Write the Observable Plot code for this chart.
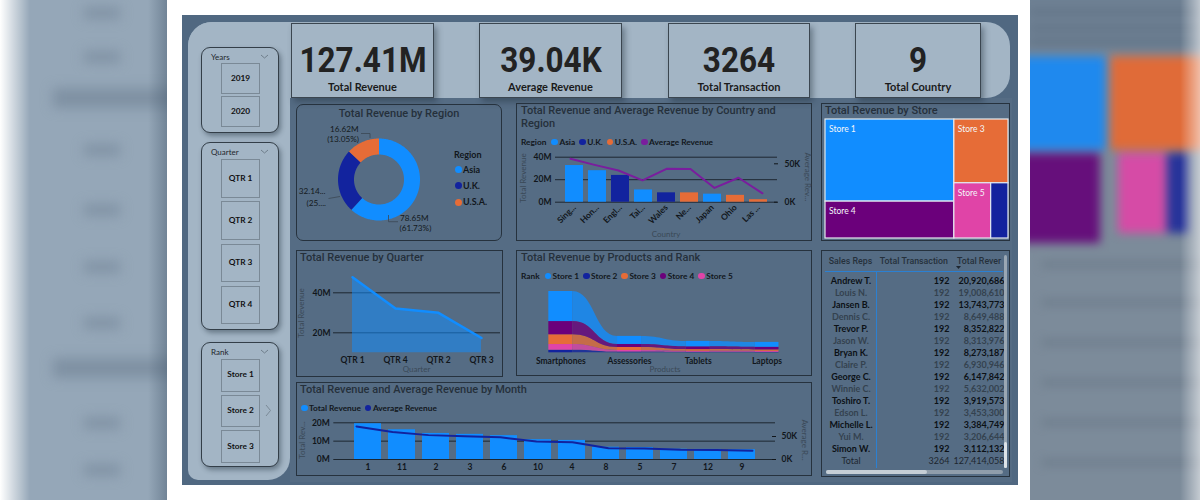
<!DOCTYPE html>
<html>
<head>
<meta charset="utf-8">
<script src="https://cdn.jsdelivr.net/npm/d3@7"></script>
<script src="https://cdn.jsdelivr.net/npm/@observablehq/plot@0.6"></script>
<style>
  html, body { margin: 0; padding: 0; background: #ffffff; }
  #root { position: relative; width: 1200px; height: 500px; overflow: hidden; background: #ffffff; font-family: Lato, "Open Sans", sans-serif; }
  .abs { position: absolute; box-sizing: border-box; }
  .t { position: absolute; white-space: nowrap; }
</style>
</head>
<body>
<div id="root"></div>
<script>
// ---------------- data ----------------
const kpiLabels = ["Total Revenue", "Average Revenue", "Total Transaction", "Total Country"];

const years = ["2019", "2020"];
const quarters = ["QTR 1", "QTR 2", "QTR 3", "QTR 4"];
const rankItems = ["Store 1", "Store 2", "Store 3"];

const regions = ["Asia", "U.K.", "U.S.A."];
const regionRevenueM = [78.65, 32.14, 16.62];
const regionSharePct = [61.73, 25.22, 13.05];

const countries = ["Singapore", "Hong Kong", "England", "Taiwan", "Wales", "New York", "Japan", "Ohio", "Las Vegas"];
const countryTicks = ["Sing...", "Hon...", "Engl...", "Tai...", "Wales", "Ne...", "Japan", "Ohio", "Las ..."];
const countryRegion = ["Asia", "Asia", "U.K.", "Asia", "U.K.", "U.S.A.", "Asia", "U.S.A.", "U.S.A."];
const countryRevenueM = [32.6, 28.0, 23.8, 10.9, 8.34, 8.3, 7.15, 6.1, 2.22];
const countryAvgK = [56.6, 48.6, 41.3, 28.4, 43.4, 43.2, 18.6, 31.8, 11.6];

const stores = ["Store 1", "Store 2", "Store 3", "Store 4", "Store 5"];
const products = ["Smartphones", "Assessories", "Tablets", "Laptops"];
const store1ByProduct = [38.5, 10.3, 6.9, 6.2];
const store2ByProduct = [3.3, 1.0, 0.7, 0.6];
const store3ByProduct = [12.5, 3.8, 2.1, 1.8];
const store4ByProduct = [16.9, 3.9, 3.6, 3.4];
const store5ByProduct = [7.3, 2.0, 1.3, 1.3];

const quarterOrder = ["QTR 1", "QTR 4", "QTR 2", "QTR 3"];
const quarterRevenueM = [47.8, 32.2, 30.0, 17.4];

const months = ["1", "11", "2", "3", "6", "10", "4", "8", "5", "7", "12", "9"];
const monthRevenueM = [19.5, 16.2, 14.2, 13.7, 13.0, 10.8, 10.4, 6.7, 6.5, 5.6, 5.5, 5.3];
const monthAvgK = [72.0, 60.0, 53.0, 50.5, 48.2, 39.0, 37.6, 24.6, 23.9, 21.2, 20.7, 19.2];

const salesReps = ["Andrew T.", "Louis N.", "Jansen B.", "Dennis C.", "Trevor P.", "Jason W.", "Bryan K.", "Claire P.", "George C.", "Winnie C.", "Toshiro T.", "Edson L.", "Michelle L.", "Yui M.", "Simon W."];
const repTransactions = [192, 192, 192, 192, 192, 192, 192, 192, 192, 192, 192, 192, 192, 192, 192];
const repRevenue = [20920686, 19008610, 13743773, 8649488, 8352822, 8313976, 8273187, 6930946, 6147842, 5632002, 3919573, 3453300, 3384749, 3206644, 3112132];
const totalTransactions = 3264;
const totalRevenue = 127414058;
const tableHeaders = ["Sales Reps", "Total Transaction", "Total Rever"];

// ---------------- palette ----------------
const BLUE = "#118dff", NAVY = "#12239e", ORANGE = "#e66c37", PURPLE = "#6b007b", PINK = "#e044a7";
const regionColors = [BLUE, NAVY, ORANGE];
const storeColors = [BLUE, NAVY, ORANGE, PURPLE, PINK];
const AVG_PURPLE = "#7a1d9e";
const LIGHT = "#a3b5c5";
const GRID = "#1d2731";

// ---------------- helpers ----------------
const root = document.getElementById("root");

function box(x, y, w, h, css = {}, parent = root) {
  const e = document.createElement("div");
  e.className = "abs";
  Object.assign(e.style, {left: x + "px", top: y + "px", width: w + "px", height: h + "px"}, css);
  parent.appendChild(e);
  return e;
}

function label(x, cy, s, o = {}, parent = root) {
  const e = document.createElement("div");
  e.className = "t";
  e.textContent = s;
  const size = o.size || 9;
  const tx = o.align === "center" ? "-50%" : o.align === "right" ? "-100%" : "0";
  let tf = `translate(${tx},-50%)`;
  if (o.rotate) tf += ` rotate(${o.rotate}deg)`;
  if (o.sx) tf += ` scaleX(${o.sx})`;
  Object.assign(e.style, {
    left: x + "px", top: cy + "px", fontSize: size + "px", lineHeight: (size * 1.4) + "px",
    fontFamily: o.family || "Lato, sans-serif", fontWeight: o.weight || 400,
    color: o.color || "#111", transform: tf
  });
  parent.appendChild(e);
  return e;
}

function legend(x, cy, title, items, size = 8.3) {
  const e = document.createElement("div");
  e.className = "t";
  Object.assign(e.style, {left: x + "px", top: cy + "px", transform: "translateY(-50%)", display: "flex", alignItems: "center",
    fontFamily: "Lato, sans-serif", fontWeight: 700, fontSize: size + "px", color: "#12171c", lineHeight: "12px"});
  if (title) {
    const t = document.createElement("span");
    t.textContent = title;
    t.style.marginRight = "5px";
    e.appendChild(t);
  }
  items.forEach(({name, color}) => {
    const d = document.createElement("span");
    Object.assign(d.style, {display: "inline-block", width: "6.5px", height: "6.5px", borderRadius: "50%", background: color, marginRight: "1.5px"});
    const s = document.createElement("span");
    s.textContent = name;
    s.style.marginRight = "4px";
    e.appendChild(d); e.appendChild(s);
  });
  root.appendChild(e);
  return e;
}

function place(node, x, y) {
  Object.assign(node.style, {position: "absolute", left: x + "px", top: y + "px"});
  root.appendChild(node);
  return node;
}

function svgOverlay(inner) {
  const ns = "http://www.w3.org/2000/svg";
  const s = document.createElementNS(ns, "svg");
  s.setAttribute("width", 1200); s.setAttribute("height", 500);
  Object.assign(s.style, {position: "absolute", left: "0px", top: "0px", pointerEvents: "none"});
  s.innerHTML = inner;
  root.appendChild(s);
}

const plotStyle = {background: "transparent", fontFamily: "Lato, sans-serif", fontSize: "8.5px", fontWeight: "700", color: "#11161b", overflow: "visible", maxWidth: "none"};
const fmtComma = d3.format(",");

// ---------------- blurred side panels ----------------
const leftSide = box(0, 0, 167, 500, {overflow: "hidden", background: "#95a7b8"});
const leftBlur = box(0, 0, 167, 500, {filter: "blur(6px)"}, leftSide);
box(53, 88, 130, 20, {background: "#7f91a3"}, leftBlur);
box(53, 358, 130, 20, {background: "#7f91a3"}, leftBlur);
[7, 51, 144, 204, 261, 317, 417, 464].forEach(y => box(84, y, 36, 12, {background: "#8193a5"}, leftBlur));
box(0, 0, 30, 500, {background: "linear-gradient(to right, #ffffff, rgba(255,255,255,0))"}, leftSide);
box(148, 0, 19, 500, {background: "linear-gradient(to right, rgba(70,90,110,0), rgba(70,90,110,0.45))"}, leftSide);

const rightSide = box(1030, 0, 170, 500, {overflow: "hidden", background: "#7c8b9a"});
const rightBlur = box(0, 0, 170, 500, {filter: "blur(5px)"}, rightSide);
box(-10, -10, 190, 62, {background: "#6e8093"}, rightBlur);
[10, 26, 40].forEach(y => box(0, y, 170, 4, {background: "#5d6f82"}, rightBlur));
box(-10, 56, 86, 94, {background: "#1f89ee"}, rightBlur);
box(80, 56, 100, 94, {background: "#e06b38"}, rightBlur);
box(-10, 153, 80, 90, {background: "#660f7b"}, rightBlur);
box(88, 153, 48, 80, {background: "#d64ba6"}, rightBlur);
box(137, 153, 22, 80, {background: "#27339a"}, rightBlur);
[262, 300, 340, 380, 420, 460].forEach(y => box(12, y, 170, 5, {background: "#6b7a89"}, rightBlur));
box(150, 0, 20, 500, {background: "linear-gradient(to right, rgba(255,255,255,0), rgba(255,255,255,0.55))"}, rightSide);

// ---------------- dashboard frame ----------------
box(182, 15, 836, 470, {background: "#506881"});
box(290, 98, 722, 384, {background: "#556c84"});
box(188, 22, 822, 76, {background: LIGHT, borderRadius: "24px"});
box(188, 22, 102, 458, {background: LIGHT, borderRadius: "24px 0 22px 10px"});

// ---------------- KPI tiles ----------------
const kpiValues = [
  (totalRevenue / 1e6).toFixed(2) + "M",
  (totalRevenue / totalTransactions / 1e3).toFixed(2) + "K",
  String(totalTransactions),
  String(countries.length)
];
const kpiX = [291, 479, 668, 855], kpiW = [143, 143, 142, 126];
kpiValues.forEach((v, i) => {
  box(kpiX[i], 23, kpiW[i], 75, {background: LIGHT, border: "1px solid #3b4650", boxShadow: "3px 4px 6px rgba(35,50,65,0.45)"});
  label(kpiX[i] + kpiW[i] / 2, 59.5, v, {align: "center", size: 35, weight: 700, family: "Roboto, sans-serif", color: "#222222", sx: 0.9});
  label(kpiX[i] + kpiW[i] / 2, 86.5, kpiLabels[i], {align: "center", size: 11, weight: 700, color: "#1a1a1a"});
});

// ---------------- slicers ----------------
let decor = "";
function slicer(title, top, height, items, first, step, bh) {
  box(201, top, 78, height, {background: LIGHT, border: "1px solid #333e48", borderRadius: "9px", boxShadow: "2px 3px 5px rgba(35,50,65,0.45)"});
  label(211, top + 10.5, title, {size: 8, color: "#1e252c"});
  decor += `<polyline points="${261},${top + 8} ${264.5},${top + 11} ${268},${top + 8}" fill="none" stroke="#6f7e8b" stroke-width="1"/>`;
  items.forEach((it, i) => {
    const y = first + i * step;
    box(221, y, 39, bh, {border: "1px solid #7a8996"});
    label(240.5, y + bh / 2, it, {align: "center", size: 8.3, weight: 700, color: "#111111"});
  });
}
slicer("Years", 47, 86, years, 63.3, 32.7, 31);
slicer("Quarter", 142, 188, quarters, 159.3, 42.1, 38.5);
slicer("Rank", 342, 125, rankItems, 359, 35.7, 32.5);
decor += `<polyline points="266,405 270.5,410.5 266,416" fill="none" stroke="#7b8a97" stroke-width="1"/>`;

// ---------------- cards ----------------
function card(x, y, w, h, r = 0) { return box(x, y, w, h, {border: "1px solid #26323e", borderRadius: r + "px"}); }
card(296, 104, 206, 137, 7);
card(516, 103, 296, 138);
card(821, 103, 189, 138);
card(296, 250, 207, 127);
card(516, 250, 296, 126);
card(821, 250, 189, 227);
card(296, 382, 516, 94);

const TF = {family: "Roboto, sans-serif", weight: 500, size: 11, color: "#25303b"};
label(399, 114, "Total Revenue by Region", {...TF, align: "center"});
label(521, 111, "Total Revenue and Average Revenue by Country and", TF);
label(521, 123.5, "Region", TF);
label(825, 111, "Total Revenue by Store", TF);
label(300, 258, "Total Revenue by Quarter", TF);
label(521, 258, "Total Revenue by Products and Rank", TF);
label(300, 390, "Total Revenue and Average Revenue by Month", TF);

const AX = {size: 8, color: "#3a4957"};

// ---------------- donut: revenue by region ----------------
const regionTotal = d3.sum(regionRevenueM);
const R_OUT = 41, R_IN = 25;
const donutPts = [];
let a0 = 0;
regions.forEach((r, i) => {
  const a1 = a0 + regionRevenueM[i] / regionTotal * 2 * Math.PI;
  const n = Math.max(2, Math.ceil((a1 - a0) / 0.02));
  for (let k = 0; k <= n; k++) { const a = a0 + (a1 - a0) * k / n; donutPts.push({region: r, x: R_OUT * Math.sin(a), y: R_OUT * Math.cos(a)}); }
  for (let k = n; k >= 0; k--) { const a = a0 + (a1 - a0) * k / n; donutPts.push({region: r, x: R_IN * Math.sin(a), y: R_IN * Math.cos(a)}); }
  a0 = a1;
});
place(Plot.plot({
  width: 206, height: 137, margin: 0, style: plotStyle,
  x: {domain: [-82.5, 123.5], axis: null},
  y: {domain: [-62, 75], axis: null},
  color: {domain: regions, range: regionColors},
  marks: [Plot.line(donutPts, {x: "x", y: "y", z: "region", fill: "region", stroke: "none", curve: "linear-closed"})]
}), 296, 104);

const fmtM = v => v.toFixed(2) + "M";
const fmtPct = v => "(" + v.toFixed(2) + "%)";
const DL = {size: 8.2, color: "#141a20"};
label(358.5, 129.5, fmtM(regionRevenueM[2]), {...DL, align: "right"});
label(359, 139.5, fmtPct(regionSharePct[2]), {...DL, align: "right"});
label(325.5, 192, fmtM(regionRevenueM[1]).slice(0, 5) + "...", {...DL, align: "right"});
label(326, 204, fmtPct(regionSharePct[1]).slice(0, 4) + "...", {...DL, align: "right"});
label(400, 219, fmtM(regionRevenueM[0]), DL);
label(399.5, 228.5, fmtPct(regionSharePct[0]), DL);
decor += `<polyline points="361,133.5 370,133.5 370,138" fill="none" stroke="#3b4754" stroke-width="0.8"/>`;
decor += `<polyline points="328.5,198.5 340,196.5" fill="none" stroke="#3b4754" stroke-width="0.8"/>`;
decor += `<polyline points="388.5,215 388.5,221.7 398,221.7" fill="none" stroke="#3b4754" stroke-width="0.8"/>`;

label(454, 155, "Region", {size: 9, weight: 700, color: "#12171c"});
regions.forEach((r, i) => {
  const cy = [169.5, 185.5, 202.3][i];
  box(455, cy - 3.5, 7, 7, {background: regionColors[i], borderRadius: "50%"});
  label(463, cy, r, {size: 9, weight: 700, color: "#12171c"});
});

// ---------------- revenue & average by country ----------------
legend(521, 142, "Region", [...regions.map((r, i) => ({name: r, color: regionColors[i]})), {name: "Average Revenue", color: AVG_PURPLE}]);
const countryRows = countries.map((c, i) => ({country: c, region: countryRegion[i], rev: countryRevenueM[i], avg: countryAvgK[i]}));
const countryFrame = {width: 296, height: 138, marginLeft: 39, marginRight: 35, marginTop: 53.7, marginBottom: 39.3, style: plotStyle};
const countryX = {domain: countries, paddingInner: 0.23, paddingOuter: 0.43};
place(Plot.plot({
  ...countryFrame,
  x: countryX,
  y: {domain: [0, 40]},
  color: {domain: regions, range: regionColors},
  marks: [
    Plot.ruleY([0, 20, 40], {stroke: GRID}),
    Plot.barY(countryRows, {x: "country", y: "rev", fill: "region"}),
    Plot.axisY({ticks: [0, 20, 40], tickFormat: d => `${d}M`, tickSize: 0, tickPadding: 4, label: null}),
    Plot.axisX({tickSize: 0, tickPadding: 4, tickRotate: -45, tickFormat: c => countryTicks[countries.indexOf(c)], label: null})
  ]
}), 516, 103);
place(Plot.plot({
  ...countryFrame,
  x: {...countryX, axis: null},
  y: {domain: [0, 58.6]},
  marks: [
    Plot.lineY(countryRows, {x: "country", y: "avg", stroke: AVG_PURPLE, strokeWidth: 2}),
    Plot.axisY({anchor: "right", ticks: [0, 50], tickFormat: d => `${d}K`, tickSize: 4, tickPadding: 7, dx: -4, label: null})
  ]
}), 516, 103);
label(524, 178, "Total Revenue", {...AX, align: "center", rotate: -90});
label(807, 177, "Average Rev...", {...AX, align: "center", rotate: 90});
label(666, 235, "Country", {...AX, align: "center"});

// ---------------- treemap: revenue by store ----------------
const storeSeries = [store1ByProduct, store2ByProduct, store3ByProduct, store4ByProduct, store5ByProduct];
const storeTotals = storeSeries.map(a => d3.sum(a));
const storeTree = d3.hierarchy({children: [
  {children: [{name: "Store 1"}, {name: "Store 4"}]},
  {children: [{name: "Store 3"}, {children: [{name: "Store 5"}, {name: "Store 2"}]}]}
]}).sum(d => d.name ? storeTotals[stores.indexOf(d.name)] : 0);
d3.treemap().tile(d3.treemapSliceDice).size([1, 1])(storeTree);
const tiles = storeTree.leaves().map(l => ({store: l.data.name, x0: l.x0, x1: l.x1, y0: l.y0, y1: l.y1}));
place(Plot.plot({
  width: 183, height: 119, margin: 0, style: {...plotStyle, fontWeight: "400"},
  x: {domain: [0, 1], axis: null},
  y: {domain: [0, 1], reverse: true, axis: null},
  color: {domain: stores, range: storeColors},
  marks: [
    Plot.rect(tiles, {x1: "x0", x2: "x1", y1: "y0", y2: "y1", fill: "store", stroke: "#e3e9ef", strokeWidth: 1.2}),
    Plot.text(tiles.filter(d => (d.x1 - d.x0) > 0.15), {x: "x0", y: "y0", text: "store", dx: 3.5, dy: 10, textAnchor: "start", fill: "#f3f6f9", fontSize: 8.5})
  ]
}), 825, 119);

// ---------------- revenue by quarter ----------------
const quarterRows = quarterOrder.map((q, i) => ({q, rev: quarterRevenueM[i]}));
place(Plot.plot({
  width: 207, height: 127, marginLeft: 37, marginRight: 3, marginTop: 22.3, marginBottom: 24.7, style: plotStyle,
  x: {type: "point", domain: quarterOrder, padding: 0.42},
  y: {domain: [10, 50]},
  marks: [
    Plot.ruleY([20, 40], {stroke: GRID}),
    Plot.areaY(quarterRows, {x: "q", y1: 10, y2: "rev", fill: BLUE, fillOpacity: 0.52}),
    Plot.lineY(quarterRows, {x: "q", y: "rev", stroke: BLUE, strokeWidth: 2.5}),
    Plot.axisY({ticks: [20, 40], tickFormat: d => `${d}M`, tickSize: 0, tickPadding: 3, label: null}),
    Plot.axisX({tickSize: 0, tickPadding: 4, label: null})
  ]
}), 296, 250);
label(302, 313, "Total Revenue", {...AX, align: "center", rotate: -90});
label(416.5, 369.5, "Quarter", {...AX, align: "center"});

// ---------------- ribbon: revenue by product and store ----------------
legend(521, 276, "Rank", stores.map((s, i) => ({name: s, color: storeColors[i]})));
const stackRows = [];
products.forEach((p, i) => {
  const order = stores.map((s, k) => ({s, v: storeSeries[k][i]})).sort((a, b) => a.v - b.v);
  let acc = 0;
  order.forEach(({s, v}) => { stackRows.push({i, store: s, y1: acc, y2: acc + v}); acc += v; });
});
const HW = 0.175;
const flowRows = [];
stores.forEach(s => {
  for (let i = 0; i < products.length - 1; i++) {
    const a = stackRows.find(d => d.i === i && d.store === s);
    const b = stackRows.find(d => d.i === i + 1 && d.store === s);
    flowRows.push({key: s + i, store: s, x: i + HW, y1: a.y1, y2: a.y2});
    flowRows.push({key: s + i, store: s, x: i + 1 - HW, y1: b.y1, y2: b.y2});
  }
});
place(Plot.plot({
  width: 296, height: 126, marginLeft: 10, marginRight: 11.2, marginTop: 32, marginBottom: 23.7, style: plotStyle,
  x: {domain: [-0.5, 3.5]},
  y: {domain: [0, 90], axis: null},
  color: {domain: stores, range: storeColors},
  marks: [
    Plot.areaY(flowRows, {x: "x", y1: "y1", y2: "y2", z: "key", fill: "store", fillOpacity: 0.78, curve: "bump-x"}),
    Plot.rect(stackRows, {x1: d => d.i - HW, x2: d => d.i + HW, y1: "y1", y2: "y2", fill: "store"}),
    Plot.axisX({ticks: [0, 1, 2, 3], tickFormat: i => products[i], tickSize: 0, tickPadding: 5, label: null})
  ]
}), 516, 250);
label(665, 370, "Products", {...AX, align: "center"});

// ---------------- revenue & average by month ----------------
legend(301, 408, null, [{name: "Total Revenue", color: BLUE}, {name: "Average Revenue", color: NAVY}]);
const monthRows = months.map((m, i) => ({month: m, rev: monthRevenueM[i], avg: monthAvgK[i]}));
const monthFrame = {width: 516, height: 94, marginLeft: 37.3, marginRight: 37, marginTop: 40.3, marginBottom: 17, style: plotStyle};
const monthX = {domain: months, paddingInner: 0.2, paddingOuter: 0.41};
place(Plot.plot({
  ...monthFrame,
  x: monthX,
  y: {domain: [0, 20]},
  marks: [
    Plot.ruleY([0, 10, 20], {stroke: GRID}),
    Plot.barY(monthRows, {x: "month", y: "rev", fill: BLUE}),
    Plot.axisY({ticks: [0, 10, 20], tickFormat: d => `${d}M`, tickSize: 0, tickPadding: 4, label: null}),
    Plot.axisX({tickSize: 0, tickPadding: 4, label: null})
  ]
}), 296, 382);
place(Plot.plot({
  ...monthFrame,
  x: {...monthX, axis: null},
  y: {domain: [0, 79.8]},
  marks: [
    Plot.lineY(monthRows, {x: "month", y: "avg", stroke: NAVY, strokeWidth: 2}),
    Plot.axisY({anchor: "right", ticks: [0, 50], tickFormat: d => `${d}K`, tickSize: 4, tickPadding: 6, dx: -4, label: null})
  ]
}), 296, 382);
label(303, 440, "Total Rev...", {...AX, align: "center", rotate: -90});
label(804, 440, "Average R...", {...AX, align: "center", rotate: 90});

// ---------------- sales reps table ----------------
const HF = {family: "Roboto, sans-serif", weight: 500, size: 8.8, color: "#26313c"};
label(850.5, 261, tableHeaders[0], {...HF, align: "center"});
label(948, 261, tableHeaders[1], {...HF, align: "right"});
label(957, 261, tableHeaders[2], HF);
box(825, 270.5, 178, 1.5, {background: "#2b80d2"});
box(875.5, 272, 1.2, 196, {background: "#2b80d2"});
decor += `<polygon points="956,266 961,266 958.5,269" fill="#1e2630"/>`;

const repRows = salesReps.map((n, i) => ({name: n, tx: repTransactions[i], rev: repRevenue[i], strong: i % 2 === 0}));
const rowDomain = [...salesReps, "Total"];
const totalRow = [{name: "Total", tx: totalTransactions, rev: totalRevenue}];
const strongRows = repRows.filter(d => d.strong), softRows = repRows.filter(d => !d.strong);
const tableCols = (rows, fill, weight) => [
  Plot.text(rows, {y: "name", text: "name", frameAnchor: "left", dx: 29.5, textAnchor: "middle", fill, fontWeight: weight}),
  Plot.text(rows, {y: "name", text: d => String(d.tx), frameAnchor: "left", dx: 128, textAnchor: "end", fill, fontWeight: weight}),
  Plot.text(rows, {y: "name", text: d => fmtComma(d.rev), frameAnchor: "left", dx: 183, textAnchor: "end", fill, fontWeight: weight})
];
place(Plot.plot({
  width: 189, height: 227, marginLeft: 0, marginRight: 7, marginTop: 28.3, marginBottom: 12.7,
  style: {...plotStyle, fontSize: "9px", fontWeight: "400"},
  y: {type: "point", domain: rowDomain, padding: 0, axis: null},
  marks: [
    ...tableCols(strongRows, "#0c1116", 700),
    ...tableCols(softRows, "#34424f", 700),
    ...tableCols(totalRow, "#1d262f", 400)
  ]
}), 821, 250);
// scrollbars
box(1003.5, 255, 3.5, 213, {background: "#9aa7b3", borderRadius: "2px"});
box(1003.5, 442, 3.5, 26, {background: "#dde3e8", borderRadius: "2px"});
box(826, 469.5, 177, 4.5, {background: "#8f9dab", borderRadius: "3px"});
box(826, 469.5, 101, 4.5, {background: "#c5ced6", borderRadius: "3px"});

svgOverlay(decor);
</script>
</body>
</html>
